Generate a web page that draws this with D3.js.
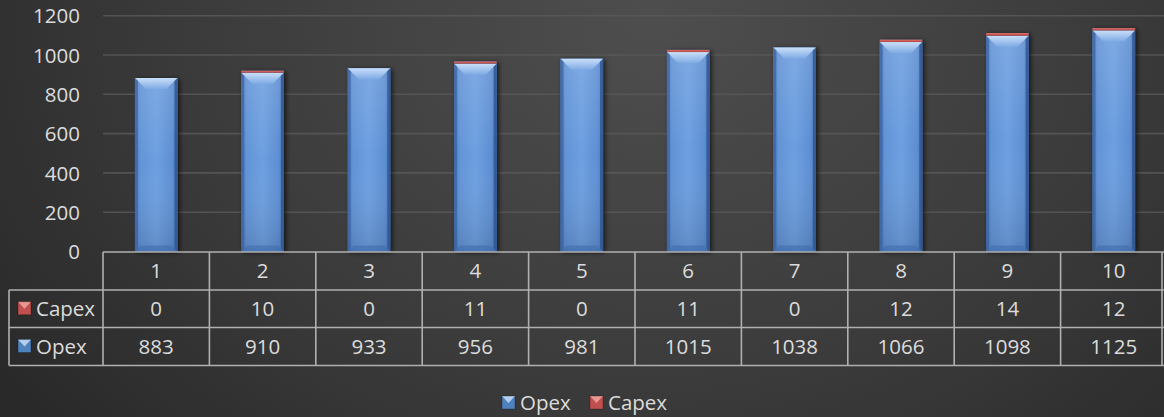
<!DOCTYPE html>
<html><head><meta charset="utf-8">
<script src="https://cdn.jsdelivr.net/npm/d3@7/dist/d3.min.js"></script>
<style>html,body{margin:0;padding:0;background:#2b2b2b;}svg{display:block;}</style>
</head><body>
<svg id="chart" width="1164" height="417"></svg>
<script>
const categories = ["1","2","3","4","5","6","7","8","9","10"];
const opex = [883, 910, 933, 956, 981, 1015, 1038, 1066, 1098, 1125];
const capex = [0, 10, 0, 11, 0, 11, 0, 12, 14, 12];
const yTicks = [0, 200, 400, 600, 800, 1000, 1200];
const seriesNames = ["Opex", "Capex"];

const W = 1164, H = 417;
const svg = d3.select("#chart");
const defs = svg.append("defs");
const FONT = "'Open Sans', sans-serif";
const FS = 20.5;
const TXT = "#dcdcdc";

// background
const bg = defs.append("radialGradient").attr("id","bg").attr("cx","0.56").attr("cy","0.05").attr("r","0.75")
  .attr("gradientTransform","translate(0.56 0.05) scale(1 2.2) translate(-0.56 -0.05)");
bg.append("stop").attr("offset","0").attr("stop-color","#4e4e4e");
bg.append("stop").attr("offset","0.55").attr("stop-color","#3a3a3a");
bg.append("stop").attr("offset","1").attr("stop-color","#252525");
svg.append("rect").attr("width",W).attr("height",H).attr("fill","url(#bg)");

// gradients for bars
const gb = defs.append("linearGradient").attr("id","blueBody").attr("x1","0").attr("x2","1").attr("y1","0").attr("y2","0");
[["0","#4a78bc"],["0.12","#6193d6"],["0.5","#6d9fe0"],["0.88","#5d8ed2"],["1","#4070b0"]].forEach(s=>gb.append("stop").attr("offset",s[0]).attr("stop-color",s[1]));
const gbv = defs.append("linearGradient").attr("id","blueVert").attr("x1","0").attr("x2","0").attr("y1","0").attr("y2","1");
[["0","#ffffff",0.12],["0.5","#ffffff",0.0],["1","#000000",0.12]].forEach(s=>gbv.append("stop").attr("offset",s[0]).attr("stop-color",s[1]).attr("stop-opacity",s[2]));
const gtop = defs.append("linearGradient").attr("id","blueTop").attr("x1","0").attr("x2","0").attr("y1","0").attr("y2","1");
[["0","#d2e6fc"],["1","#80abe4"]].forEach(s=>gtop.append("stop").attr("offset",s[0]).attr("stop-color",s[1]));
const gr = defs.append("linearGradient").attr("id","redBody").attr("x1","0").attr("x2","0").attr("y1","0").attr("y2","1");
[["0","#e07470"],["1","#b0403d"]].forEach(s=>gr.append("stop").attr("offset",s[0]).attr("stop-color",s[1]));
const sh = defs.append("filter").attr("id","shadow").attr("x","-30%").attr("y","-10%").attr("width","160%").attr("height","120%");
sh.append("feGaussianBlur").attr("in","SourceAlpha").attr("stdDeviation","2.5");
sh.append("feOffset").attr("dx","2").attr("dy","1").attr("result","b");
sh.append("feComponentTransfer").append("feFuncA").attr("type","linear").attr("slope","0.7");
const m = sh.append("feMerge"); m.append("feMergeNode"); m.append("feMergeNode").attr("in","SourceGraphic");

// scales
const x = d3.scaleBand().domain(categories).range([103, 1167]).paddingInner(0.6).paddingOuter(0.3);
const y = d3.scaleLinear().domain([0, 1200]).range([251.5, 15.7]);
const step = x.step();
const colLeft = c => x(c) - (step - x.bandwidth())/2;

// gridlines
svg.append("g").selectAll("line").data(yTicks.filter(t=>t>0)).join("line")
  .attr("x1",103).attr("x2",W).attr("y1",d=>y(d)).attr("y2",d=>y(d))
  .attr("stroke","#5a5a5a").attr("stroke-width",1.6).attr("stroke-opacity",0.8);

// y axis labels via d3 axis
const yAxis = svg.append("g").attr("transform","translate(80,0)")
  .call(d3.axisLeft(y).tickValues(yTicks).tickFormat(d3.format("d")).tickSize(0).tickPadding(0));
yAxis.select(".domain").remove();
yAxis.selectAll("text").attr("font-family",FONT).attr("font-size",FS).attr("fill",TXT).attr("dy","0.35em");

// bars
const bars = svg.append("g");
categories.forEach((c,i)=>{
  const bx = x(c), bw = x.bandwidth();
  const y0 = y(0), y1 = y(opex[i]), y2 = y(opex[i]+capex[i]);
  const g = bars.append("g");
  g.append("rect").attr("x",bx).attr("y",y2).attr("width",bw).attr("height",y0-y2).attr("fill","#3a5f99").attr("filter","url(#shadow)");
  g.append("rect").attr("x",bx).attr("y",y1).attr("width",bw).attr("height",y0-y1).attr("fill","url(#blueBody)");
  g.append("rect").attr("x",bx).attr("y",y1).attr("width",bw).attr("height",y0-y1).attr("fill","url(#blueVert)");
  const bev = 11;
  g.append("path").attr("d",`M${bx},${y1} L${bx+bw},${y1} L${bx+bw-bev},${y1+bev} L${bx+bev},${y1+bev} Z`).attr("fill","url(#blueTop)").attr("opacity",0.9);
  g.append("path").attr("d",`M${bx},${y1} L${bx+3},${y1+3} L${bx+3},${y0-3} L${bx},${y0} Z`).attr("fill","#3b639f").attr("opacity",0.7);
  g.append("path").attr("d",`M${bx+bw},${y1} L${bx+bw-3},${y1+3} L${bx+bw-3},${y0-3} L${bx+bw},${y0} Z`).attr("fill","#2f5591").attr("opacity",0.8);
  g.append("path").attr("d",`M${bx},${y0} L${bx+bw},${y0} L${bx+bw-6},${y0-6} L${bx+6},${y0-6} Z`).attr("fill","#3f6cae").attr("opacity",0.6);
  if (capex[i] > 0) {
    g.append("rect").attr("x",bx).attr("y",y2).attr("width",bw).attr("height",Math.max(y1-y2,1)).attr("fill","url(#redBody)");
  }
});

// data table
const tbl = svg.append("g");
const LC = "#b0b0b0";
const rowY = [252, 290, 327.5, 365.5];
const tLeft = 9, tRight = 1162;
tbl.append("line").attr("x1",103).attr("x2",W).attr("y1",rowY[0]).attr("y2",rowY[0]);
[1,2,3].forEach(k=>tbl.append("line").attr("x1",tLeft).attr("x2",W).attr("y1",rowY[k]).attr("y2",rowY[k]));
tbl.append("line").attr("x1",tLeft).attr("x2",tLeft).attr("y1",rowY[1]).attr("y2",rowY[3]);
categories.forEach(c=>{
  const lx = colLeft(c);
  tbl.append("line").attr("x1",lx).attr("x2",lx).attr("y1",rowY[0]).attr("y2",rowY[3]);
});
tbl.append("line").attr("x1",tRight).attr("x2",tRight).attr("y1",rowY[0]).attr("y2",rowY[3]);
tbl.selectAll("line").attr("stroke",LC).attr("stroke-width",1.6);

const rows = [categories, capex, opex];
rows.forEach((r,k)=>{
  const cy = (rowY[k]+rowY[k+1])/2;
  tbl.append("g").selectAll("text").data(r).join("text")
    .attr("x",(d,j)=>x(categories[j])+x.bandwidth()/2).attr("y",cy).attr("dy","0.36em")
    .attr("text-anchor","middle").attr("font-family",FONT).attr("font-size",FS).attr("fill",TXT)
    .text(d=>d);
});

function marker(g, mx, my, color, topc){
  g.append("rect").attr("x",mx).attr("y",my).attr("width",13).attr("height",13).attr("fill",color);
  g.append("path").attr("d",`M${mx},${my} L${mx+13},${my} L${mx+6.5},${my+7} Z`).attr("fill",topc).attr("opacity",0.85);
  g.append("rect").attr("x",mx).attr("y",my).attr("width",13).attr("height",13).attr("fill","none").attr("stroke","#000").attr("stroke-opacity",0.25).attr("stroke-width",1);
}
const rowLabels = [["Capex","#c0504d","#f0a3a0",1],["Opex","#4f81bd","#c6dcf6",2]];
rowLabels.forEach(([name,col,tc,k])=>{
  const cy = (rowY[k]+rowY[k+1])/2;
  marker(tbl, 18, cy-7, col, tc);
  tbl.append("text").attr("x",36).attr("y",cy).attr("dy","0.36em").attr("font-family",FONT).attr("font-size",FS).attr("fill",TXT).text(name);
});

// legend
const lg = svg.append("g");
const legendItems = [["Opex","#4f81bd","#c6dcf6",502],["Capex","#c0504d","#f0a3a0",590]];
legendItems.forEach(([name,col,tc,lx])=>{
  marker(lg, lx, 396, col, tc);
  lg.append("text").attr("x",lx+18).attr("y",402.5).attr("dy","0.36em").attr("font-family",FONT).attr("font-size",FS).attr("fill",TXT).text(name);
});
</script>
</body></html>
